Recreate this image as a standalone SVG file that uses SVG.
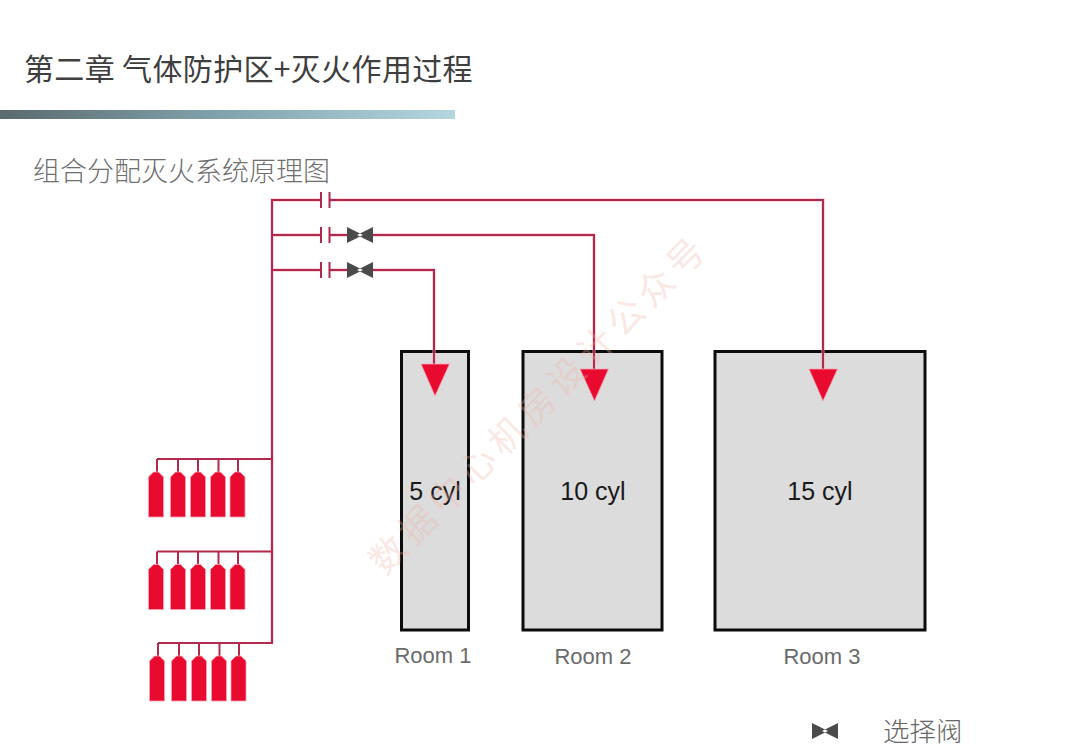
<svg xmlns="http://www.w3.org/2000/svg" width="1080" height="752" viewBox="0 0 1080 752">
<style>
.cjk{font-family:"Noto Sans CJK SC","Noto Sans",sans-serif}
.lat{font-family:"Liberation Sans",Arial,sans-serif}
.pipe{fill:none;stroke:#b02a4e;stroke-width:2}
.pipeh{fill:none;stroke:#f3a9bb;stroke-width:3.4;opacity:.6}
.room{fill:#dcdcdc;stroke:#0c0c0c;stroke-width:3}
.cyl{fill:#e90a30;stroke:#f9a0b0;stroke-width:.8}
.head{fill:#e90a30;stroke:#f7a3b3;stroke-width:.8}
.valve{fill:#4a4a4a}
.cap{stroke:#a92a4a;stroke-width:2;fill:none}
.lab{font-size:22px;fill:#6b6b6b;text-anchor:middle}
.cnt{font-size:25px;fill:#1a1a1a;text-anchor:middle}
</style>
<defs>
<linearGradient id="bar"><stop offset="0" stop-color="#5a6a6e"/><stop offset=".45" stop-color="#7f9fa8"/><stop offset="1" stop-color="#b6d6df"/></linearGradient>
<path id="c" d="M-7.500 45V5L-2.500 0H2.500L7.500 5V45Z"/>
<path id="v" d="M-13 -8L3 0L-13 8ZM13 -8L-3 0L13 8Z"/>
<g id="bank">
<path class="pipe" d="M0 0H115M0 0V13M21 0V13M41 0V13M61.500 0V13M81 0V13"/>
<use href="#c" class="cyl" x="-1" y="13"/><use href="#c" class="cyl" x="21" y="13"/><use href="#c" class="cyl" x="41" y="13"/><use href="#c" class="cyl" x="61" y="13"/><use href="#c" class="cyl" x="80.500" y="13"/>
</g>
</defs>
<rect width="1080" height="752" fill="#fff"/>
<text class="cjk" x="24" y="80" font-size="30" font-weight="400" letter-spacing=".35" fill="#3f3f3f" xml:space="preserve">第二章 气体防护区+灭火作用过程</text>
<rect x="0" y="110" width="455" height="9" fill="url(#bar)"/>
<text class="cjk" x="33" y="181" font-size="27" font-weight="300" fill="#6f6f6f">组合分配灭火系统原理图</text>
<g id="room1"><rect class="room" x="401.500" y="351.500" width="67" height="278.500"/><text class="lat cnt" x="435" y="500">5 cyl</text><text class="lat lab" x="433" y="663">Room 1</text></g>
<g id="room2"><rect class="room" x="523" y="351.500" width="139" height="278.500"/><text class="lat cnt" x="593" y="500">10 cyl</text><text class="lat lab" x="593" y="664">Room 2</text></g>
<g id="room3"><rect class="room" x="715" y="351.500" width="210" height="278.500"/><text class="lat cnt" x="820" y="500">15 cyl</text><text class="lat lab" x="822" y="664">Room 3</text></g>
<g id="connectors">
<path class="pipeh" d="M272 643V200H321M330 200H823V372M272 235H321M330 235H347M373 235H594V372M272 270H321M330 270H347M373 270H434V367"/>
<path class="pipe" d="M272 643V200H321M330 200H823V372M272 235H321M330 235H347M373 235H594V372M272 270H321M330 270H347M373 270H434V367"/>
<path class="head" d="M421 364H449.500L435 396ZM580 369H608.500L594.500 401ZM809 369H837.500L823 401Z"/>
</g>
<g id="caps"><path class="cap" d="M321 192V208M329.500 192V208M321 227V243M329.500 227V243M321 262V278M329.500 262V278"/></g>
<g id="valve1"><use href="#v" class="valve" x="360" y="235"/></g>
<g id="valve2"><use href="#v" class="valve" x="360" y="270"/></g>
<g id="bank1"><use href="#bank" x="157" y="459"/></g>
<g id="bank2"><use href="#bank" x="157" y="551.500"/></g>
<g id="bank3"><use href="#bank" x="158" y="643"/></g>
<text class="cjk" transform="translate(548 413) rotate(-45)" text-anchor="middle" font-size="36" letter-spacing="6" fill="#f0b4a8" opacity=".3">数据中心机房设计公众号</text>
<g id="legend"><path class="valve" d="M812 723L828 731L812 739ZM838 723L822 731L838 739Z"/><text class="cjk" x="883" y="741" font-size="26.500" font-weight="300" fill="#666">选择阀</text></g>
</svg>
